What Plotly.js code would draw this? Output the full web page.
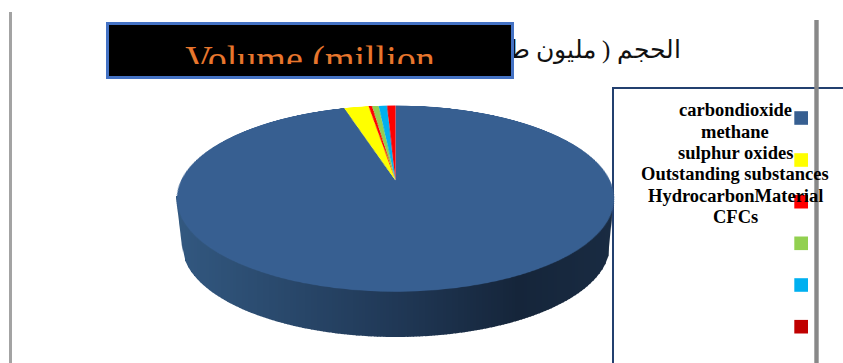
<!DOCTYPE html>
<html>
<head>
<meta charset="utf-8">
<script src="https://cdn.plot.ly/plotly-3.0.1.min.js"></script>
<style>
  html, body { margin: 0; padding: 0; background: #fff; overflow: hidden; width: 843px; height: 363px; }
  #page { position: absolute; left: 0; top: 0; width: 843px; height: 363px; }
  #pie { position: absolute; left: 181px; top: -34.5px; width: 429px; height: 429px;
         transform: perspective(1007px) rotateX(65.3deg); transform-origin: 50% 50%; }
</style>
</head>
<body>
<div id="page"></div>
<div id="pie"></div>
<script>
// Emissions by gas, share of total volume
const categories = ['carbondioxide', 'methane', 'sulphur oxides', 'Outstanding substances', 'HydrocarbonMaterial', 'CFCs'];
const volumes = [95.42, 2.19, 0.31, 0.58, 0.75, 0.75];
const sliceColors = ['#375f91', '#ffff00', '#ff0000', '#92d050', '#00b0f0', '#ff0000'];
const keyColors = ['#375f91', '#ffff00', '#ff0000', '#92d050', '#00b0f0', '#c00000'];
const titleEnglish = 'Volume (million<br>tons)';
const titleArabic = 'الحجم ( مليون طن )';

// Side wall shading, left to right
const wallStops = [[0, [50, 88, 128]], [0.5, [32, 56, 86]], [0.78, [21, 37, 58]], [1, [25, 43, 66]]];

const serif = '"Liberation Serif", "Times New Roman", serif';

function wallColor(f) {
  for (let i = 1; i < wallStops.length; i++) {
    if (f <= wallStops[i][0]) {
      const [a, ca] = wallStops[i - 1], [b, cb] = wallStops[i];
      const t = (f - a) / (b - a);
      return 'rgb(' + ca.map((v, k) => Math.round(v + (cb[k] - v) * t)).join(',') + ')';
    }
  }
  return 'rgb(25,43,66)';
}

function rect(x0, y0, x1, y1, fill) {
  return { type: 'rect', xref: 'x', yref: 'y', x0, y0, x1, y1, fillcolor: fill, line: { width: 0 }, layer: 'below' };
}

// The wall under the disc, built as narrow vertical strips
function wallStrips() {
  const out = [];
  const left = 176, right = 613, cx = 396, cy = 245, rx = 214, ry = 92, step = 3;
  const lower = x => {
    if (x < cx - rx) return 198 + (x - left) / (cx - rx - left) * (cy - 198);
    if (x > cx + rx) return 198 + (right - x) / (right - cx - rx) * (cy - 198);
    return cy + ry * Math.sqrt(1 - Math.pow((x - cx) / rx, 2));
  };
  for (let x = left; x < right; x += step) {
    const x1 = Math.min(x + step + 0.6, right);
    const path = 'M' + x + ',196 L' + x1 + ',196 L' + x1 + ',' + lower(x1) + ' L' + x + ',' + lower(x) + ' Z';
    out.push({ type: 'path', xref: 'x', yref: 'y', path, fillcolor: wallColor((x - left) / (right - left)),
               line: { width: 0 }, layer: 'below' });
  }
  return out;
}

const keyRows = [118, 160, 201.7, 243.3, 285, 326.7];
const labelRows = [110, 131.5, 153, 174.3, 196, 217.3];

const shapes = [
  ...wallStrips(),
  // legend frame, running off the page on the right and bottom
  rect(612, 87, 843, 89, '#23406f'),
  rect(612, 87, 614, 363, '#23406f'),
  ...keyColors.map((c, i) => rect(794.3, keyRows[i] - 6.8, 808, keyRows[i] + 6.8, c)),
  // page rules
  rect(9, 12, 12, 363, '#a3a3a3'),
  rect(814.3, 20, 818.7, 363, '#888888')
];

const annotations = [
  { x: 683, y: 50, xref: 'x', yref: 'y', xanchor: 'right', yanchor: 'middle', showarrow: false,
    text: titleArabic, font: { family: serif, size: 25, color: '#111' } },
  { x: 310.3, y: 50.5, xref: 'x', yref: 'y', xanchor: 'center', yanchor: 'middle', showarrow: false,
    text: ' ', width: 402, height: 51, bgcolor: '#000000', bordercolor: '#4472c4', borderwidth: 3, borderpad: 0 },
  { x: 310, y: 51, xref: 'x', yref: 'y', xanchor: 'center', yanchor: 'middle', showarrow: false,
    text: titleEnglish, width: 300, height: 26, valign: 'top', borderpad: 0,
    font: { family: serif, size: 38, color: '#e8762d' } },
  ...categories.map((name, i) => ({
    x: 735, y: labelRows[i], xref: 'x', yref: 'y', xanchor: 'center', yanchor: 'middle', showarrow: false,
    text: '<b>' + name + '</b>', font: { family: serif, size: 18.5, color: '#000' }
  }))
];

Plotly.newPlot('page', [], {
  width: 843, height: 363, margin: { l: 0, r: 0, t: 0, b: 0 },
  paper_bgcolor: '#ffffff', plot_bgcolor: '#ffffff', showlegend: false,
  xaxis: { range: [0, 843], visible: false, fixedrange: true },
  yaxis: { range: [363, 0], visible: false, fixedrange: true },
  shapes, annotations
}, { displayModeBar: false, staticPlot: true });

// The disc itself is an ordinary pie, tilted by the stylesheet
Plotly.newPlot('pie', [{
  type: 'pie', labels: categories, values: volumes, sort: false, direction: 'clockwise', rotation: 0,
  marker: { colors: sliceColors, line: { width: 0 } }, textinfo: 'none', hoverinfo: 'skip'
}], {
  width: 429, height: 429, margin: { l: 0, r: 0, t: 0, b: 0 },
  paper_bgcolor: 'rgba(0,0,0,0)', showlegend: false
}, { displayModeBar: false, staticPlot: true });
</script>
</body>
</html>
